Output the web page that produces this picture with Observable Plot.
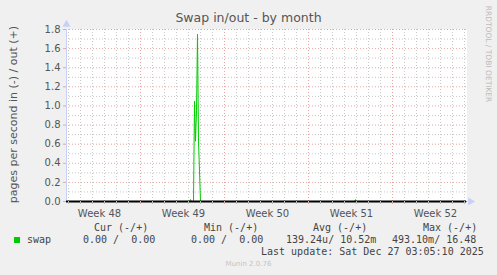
<!DOCTYPE html>
<html><head><meta charset="utf-8">
<script src="https://cdn.jsdelivr.net/npm/d3@7"></script>
<script src="https://cdn.jsdelivr.net/npm/@observablehq/plot@0.6"></script>
<style>
body{margin:0;background:#f0f0f0;}
#c{position:relative;width:497px;height:275px;background:#f0f0f0;overflow:hidden;font-family:"DejaVu Sans",sans-serif;}
#c svg{position:absolute;left:0;top:0;}
.t{position:absolute;white-space:pre;}
.mono{font-family:"DejaVu Sans Mono",monospace;font-size:10px;line-height:10px;color:#444;}
</style></head><body><div id="c"></div>
<script>
// ---- text ----
const title = "Swap in/out - by month";
const yLabel = "pages per second in (-) / out (+)";
const watermark = "RRDTOOL / TOBI OETIKER";
const footer = "Munin 2.0.76";
const lastUpdate = "Last update: Sat Dec 27 03:05:10 2025";
const seriesName = "swap";
const legendHeaders = ["Cur (-/+)", "Min (-/+)", "Avg (-/+)", "Max (-/+)"];
const legendValues = ["0.00 /  0.00", "0.00 /  0.00", "139.24u/ 10.52m", "493.10m/ 16.48"];

// ---- axes ----
const xDomain = ["2025-11-24T20:00Z", "2025-12-28T04:00Z"];
const weekStarts = ["2025-12-01T00:00Z", "2025-12-08T00:00Z", "2025-12-15T00:00Z", "2025-12-22T00:00Z"];
const weekLabelDates = ["2025-11-27T14:00Z", "2025-12-04T14:00Z", "2025-12-11T14:00Z", "2025-12-18T14:00Z", "2025-12-25T14:00Z"];
const weekLabels = ["Week 48", "Week 49", "Week 50", "Week 51", "Week 52"];
const yMajor = [0, 0.2, 0.4, 0.6, 0.8, 1.0, 1.2, 1.4, 1.6, 1.8];
const yMinor = [0.1, 0.3, 0.5, 0.7, 0.9, 1.1, 1.3, 1.5, 1.7];

// ---- series: swap out (+) ----
const outTimes = ["2025-11-24T20:00Z", "2025-12-05T02:00Z", "2025-12-05T04:00Z", "2025-12-05T06:00Z",
  "2025-12-05T08:00Z", "2025-12-05T10:00Z", "2025-12-05T12:00Z", "2025-12-05T14:00Z", "2025-12-05T16:00Z",
  "2025-12-05T18:00Z", "2025-12-05T20:00Z", "2025-12-05T22:00Z", "2025-12-06T00:00Z",
  "2025-12-18T20:00Z", "2025-12-18T22:00Z", "2025-12-19T00:00Z", "2025-12-28T04:00Z"];
const outValues = [0, 0, 0.02, 0, 0, 0, 1.05, 0.63, 0.95, 1.75, 0.63, 0.32, 0, 0, 0.02, 0, 0];

const seriesColor = "#00cc00";
const x0 = new Date(xDomain[0]), x1 = new Date(xDomain[1]);
const weeks = weekStarts.map(d => new Date(d));
const weekSet = new Set(weeks.map(d => +d));
const days = d3.utcDay.range(x0, x1).filter(d => !weekSet.has(+d));
const labelDates = weekLabelDates.map(d => new Date(d));
const data = outTimes.map((t, i) => ({t: new Date(t), v: outValues[i]}));

const red = "#e8a4a4", gray = "#c8c8c8", blue = "#c8d0f8";

const chart = Plot.plot({
  width: 497, height: 275,
  marginLeft: 66, marginRight: 31, marginTop: 29, marginBottom: 74,
  style: {background: "transparent", fontFamily: "DejaVu Sans", fontSize: "10px", overflow: "visible"},
  x: {type: "utc", domain: [x0, x1], label: null},
  y: {domain: [0, 1.8], label: null},
  marks: [
    Plot.frame({fill: "white", stroke: "white"}),
    Plot.gridY({ticks: yMinor, stroke: gray, strokeOpacity: 1, strokeDasharray: "1,2"}),
    Plot.gridX({ticks: days, stroke: gray, strokeOpacity: 1, strokeDasharray: "1,2"}),
    Plot.gridY({ticks: yMajor.slice(1), stroke: red, strokeOpacity: 1, strokeDasharray: "1,2"}),
    Plot.gridX({ticks: weeks, stroke: red, strokeOpacity: 1, strokeDasharray: "1,2"}),
    Plot.line(data, {x: "t", y: "v", stroke: seriesColor, strokeWidth: 1}),
    Plot.ruleX([x0], {stroke: blue}),
    Plot.ruleY([0], {stroke: "#000", strokeWidth: 2}),
    Plot.axisX({ticks: days, tickSize: 3, tickFormat: () => "", stroke: "#bbb"}),
    Plot.axisX({ticks: weeks, tickSize: 3, tickFormat: () => "", stroke: red}),
    Plot.axisX({ticks: labelDates, tickSize: 0, tickPadding: 8, fill: "#555", fontSize: 10,
      tickFormat: d => weekLabels[labelDates.findIndex(w => +w === +d)]}),
    Plot.axisY({ticks: yMajor, tickSize: 3, tickFormat: () => "", stroke: red}),
    Plot.axisY({ticks: yMajor, tickSize: 0, tickPadding: 6, fill: "#555", fontSize: 10,
      tickFormat: d => d.toFixed(1)}),
    Plot.dot([{t: x0, v: 1.8}], {x: "t", y: "v", symbol: "triangle", r: 3, fill: blue, stroke: "none", dy: -5}),
    Plot.dot([{t: x1, v: 0}], {x: "t", y: "v", symbol: "triangle", rotate: 90, r: 3, fill: blue, stroke: "none", dx: 4})
  ]
});

const c = document.getElementById("c");
c.appendChild(chart);

function addText(txt, css, cls) {
  const d = document.createElement("div");
  d.className = "t" + (cls ? " " + cls : "");
  d.textContent = txt;
  Object.assign(d.style, css);
  c.appendChild(d);
  return d;
}

addText(title, {left: "0px", width: "497px", textAlign: "center", top: "12.4px", fontSize: "12.5px", lineHeight: "12.5px", color: "#555"});
addText(yLabel, {left: "-87px", top: "109px", width: "200px", textAlign: "center", fontSize: "11px", lineHeight: "11px", color: "#555", transform: "rotate(-90deg)"});
addText(watermark, {left: "428px", top: "49.5px", width: "120px", textAlign: "center", fontSize: "7.5px", lineHeight: "8px", color: "#bbb", transform: "rotate(90deg)"});

const headerX = [94, 204, 313, 423];
const valueX = [83, 191, 286, 392];
legendHeaders.forEach((h, i) => addText(h, {left: headerX[i] + "px", top: "222.5px"}, "mono"));
legendValues.forEach((v, i) => addText(v, {left: valueX[i] + "px", top: "234.5px"}, "mono"));
addText(seriesName, {left: "27px", top: "234.5px"}, "mono");
const sw = document.createElement("div");
Object.assign(sw.style, {position: "absolute", left: "14px", top: "237px", width: "6px", height: "6px", background: seriesColor});
c.appendChild(sw);
addText(lastUpdate, {left: "261px", top: "246.5px"}, "mono");
addText(footer, {left: "0px", width: "497px", textAlign: "center", top: "261px", fontSize: "7px", lineHeight: "7px", color: "#c4c4c4"});
</script></body></html>
